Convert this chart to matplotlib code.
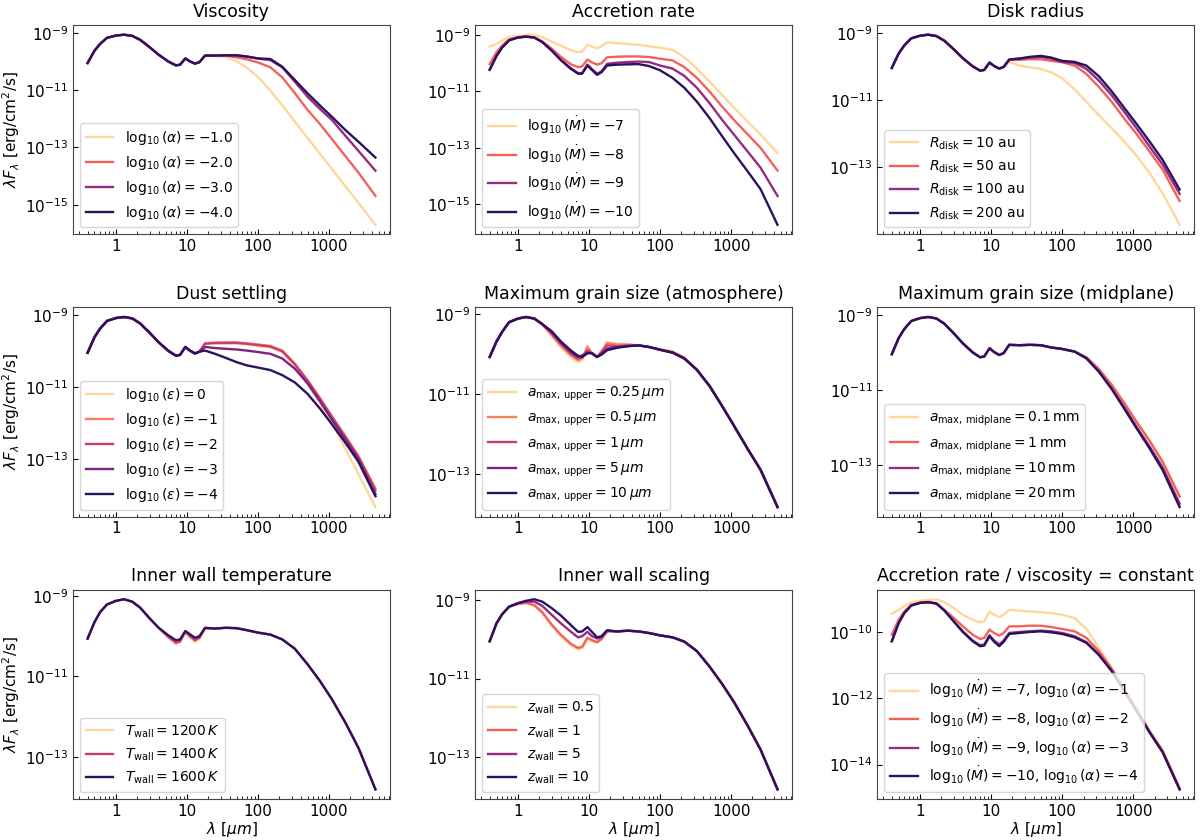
import numpy as np
import matplotlib
matplotlib.use("Agg")
import matplotlib.pyplot as plt
from matplotlib.ticker import FixedLocator, NullLocator, LogLocator

# wavelength grid [micron]
WL = [0.4, 0.5, 0.6, 0.75, 1.0, 1.3, 1.7, 2.2, 3.0, 4.0, 5.5, 7.0, 8.0, 9.5, 11, 13, 15,
      18, 25, 35, 50, 70, 100, 150, 220, 330, 500, 750, 1100, 1700, 2600, 4500]

# log10(lambda F_lambda)
BASE_SHORT = [-10.05, -9.62, -9.38, -9.17, -9.09, -9.06, -9.10, -9.24, -9.50, -9.76,
              -10.00, -10.13, -10.11, -9.89, -9.99, -10.07, -10.02]

# viscosity
VISC_A1 = BASE_SHORT + [-9.79, -9.80, -9.83, -9.99, -10.22, -10.53, -11.02, -11.53, -12.09, -12.67, -13.23, -13.75, -14.35, -14.94, -15.70]
VISC_A2 = BASE_SHORT + [-9.79, -9.79, -9.79, -9.85, -9.92, -10.03, -10.20, -10.55, -11.10, -11.69, -12.19, -12.71, -13.30, -13.88, -14.69]
VISC_A3 = BASE_SHORT + [-9.79, -9.79, -9.78, -9.78, -9.83, -9.89, -9.95, -10.20, -10.70, -11.23, -11.66, -12.04, -12.59, -13.12, -13.81]
VISC_A4 = BASE_SHORT + [-9.79, -9.79, -9.78, -9.78, -9.82, -9.89, -9.91, -10.18, -10.64, -11.11, -11.54, -11.93, -12.39, -12.80, -13.35]

# accretion rate
ACC_M7 = [-9.42, -9.33, -9.21, -9.09, -9.04, -9.01, -9.00, -9.09, -9.25, -9.39, -9.54, -9.62, -9.60, -9.35, -9.42, -9.48, -9.41,
          -9.27, -9.30, -9.33, -9.36, -9.41, -9.46, -9.54, -9.80, -10.20, -10.67, -11.14, -11.58, -12.08, -12.54, -13.19]
ACC_M8 = [-10.04, -9.62, -9.38, -9.17, -9.09, -9.06, -9.10, -9.24, -9.50, -9.78, -10.04, -10.15, -10.12, -9.88, -9.98, -10.06, -10.01,
          -9.80, -9.78, -9.77, -9.77, -9.79, -9.85, -9.91, -10.15, -10.53, -11.02, -11.55, -12.02, -12.52, -13.01, -13.81]
ACC_M9 = [-10.24, -9.75, -9.45, -9.20, -9.10, -9.07, -9.10, -9.26, -9.56, -9.88, -10.18, -10.36, -10.36, -10.06, -10.22, -10.38, -10.30,
          -10.03, -9.99, -9.97, -9.95, -9.97, -10.09, -10.20, -10.46, -10.88, -11.43, -12.02, -12.54, -13.13, -13.71, -14.71]
ACC_M10 = [-10.24, -9.75, -9.45, -9.20, -9.10, -9.07, -9.10, -9.26, -9.57, -9.90, -10.20, -10.38, -10.38, -10.09, -10.25, -10.42, -10.33,
           -10.09, -10.06, -10.05, -10.04, -10.11, -10.26, -10.53, -10.88, -11.37, -11.96, -12.60, -13.19, -13.83, -14.47, -15.73]

# disk radius
RD_10 = BASE_SHORT + [-9.87, -9.98, -10.03, -10.08, -10.18, -10.36, -10.69, -11.06, -11.46, -11.85, -12.24, -12.65, -13.18, -13.78, -14.72]
RD_50 = BASE_SHORT + [-9.81, -9.81, -9.79, -9.79, -9.84, -9.88, -9.98, -10.23, -10.62, -11.06, -11.56, -12.00, -12.54, -13.08, -14.01]
RD_100 = BASE_SHORT + [-9.80, -9.77, -9.74, -9.72, -9.77, -9.87, -9.90, -10.08, -10.43, -10.87, -11.36, -11.83, -12.39, -12.93, -13.80]
RD_200 = BASE_SHORT + [-9.80, -9.77, -9.72, -9.69, -9.74, -9.84, -9.87, -9.98, -10.30, -10.75, -11.24, -11.70, -12.24, -12.79, -13.67]

# dust settling
EPS_0 = BASE_SHORT + [-9.80, -9.80, -9.79, -9.79, -9.82, -9.87, -9.90, -10.04, -10.40, -10.90, -11.45, -12.00, -12.71, -13.41, -14.32]
EPS_1 = BASE_SHORT + [-9.79, -9.77, -9.76, -9.76, -9.79, -9.82, -9.86, -9.99, -10.35, -10.81, -11.31, -11.81, -12.36, -12.91, -13.80]
EPS_2 = BASE_SHORT + [-9.80, -9.78, -9.78, -9.78, -9.80, -9.84, -9.88, -10.01, -10.37, -10.83, -11.33, -11.83, -12.38, -12.93, -13.86]
EPS_3 = BASE_SHORT + [-9.89, -9.92, -9.94, -9.96, -9.99, -10.03, -10.08, -10.21, -10.49, -10.90, -11.40, -11.90, -12.45, -13.00, -13.96]
EPS_4 = BASE_SHORT + [-9.99, -10.08, -10.19, -10.31, -10.40, -10.46, -10.53, -10.67, -10.87, -11.19, -11.60, -12.03, -12.54, -13.07, -14.02]

# maximum grain size, atmosphere
AUP_PEAK = [-10.07, -9.68, -9.44, -9.20, -9.11, -9.07, -9.11, -9.25]
AUP_TAIL = [-10.39, -10.80, -11.30, -11.79, -12.36, -12.89, -13.82]
AUP_025 = AUP_PEAK + [-9.55, -9.82, -10.07, -10.19, -10.15, -9.78, -9.98, -10.07, -9.90, -9.70, -9.74, -9.75, -9.78, -9.82, -9.87, -9.93, -10.08] + AUP_TAIL
AUP_05 = AUP_PEAK + [-9.52, -9.78, -10.02, -10.15, -10.11, -9.82, -9.98, -10.07, -9.93, -9.72, -9.76, -9.76, -9.78, -9.82, -9.88, -9.94, -10.09] + AUP_TAIL
AUP_1 = AUP_PEAK + [-9.49, -9.74, -9.98, -10.11, -10.07, -9.90, -9.98, -10.07, -9.96, -9.78, -9.80, -9.78, -9.78, -9.82, -9.89, -9.96, -10.10] + AUP_TAIL
AUP_5 = AUP_PEAK + [-9.45, -9.70, -9.94, -10.07, -10.03, -9.96, -9.98, -10.07, -9.98, -9.86, -9.82, -9.80, -9.78, -9.82, -9.89, -9.96, -10.11] + AUP_TAIL
AUP_10 = AUP_PEAK + [-9.43, -9.68, -9.90, -10.04, -10.07, -9.98, -9.97, -10.07, -10.01, -9.90, -9.84, -9.80, -9.78, -9.82, -9.89, -9.96, -10.11] + AUP_TAIL

# maximum grain size, midplane
AMID_FLAT = [-9.80, -9.81, -9.80, -9.81, -9.87, -9.91, -9.98]
AMID_01 = BASE_SHORT + AMID_FLAT + [-10.13, -10.44, -10.86, -11.34, -11.82, -12.34, -12.90, -13.82]
AMID_1 = BASE_SHORT + AMID_FLAT + [-10.13, -10.45, -10.87, -11.35, -11.83, -12.35, -12.91, -13.83]
AMID_10 = BASE_SHORT + AMID_FLAT + [-10.16, -10.50, -10.96, -11.46, -11.96, -12.50, -13.06, -14.02]
AMID_20 = BASE_SHORT + AMID_FLAT + [-10.16, -10.52, -10.98, -11.50, -12.00, -12.55, -13.13, -14.11]

# inner wall temperature
TW_PEAK = [-10.06, -9.65, -9.40, -9.21, -9.12, -9.08, -9.14, -9.29, -9.56, -9.79]
TW_TAIL = [-9.81, -9.79, -9.80, -9.85, -9.91, -9.96, -10.08, -10.31, -10.70, -11.12, -11.57, -12.15, -12.78, -13.81]
TW_1200 = TW_PEAK + [-10.04, -10.20, -10.16, -9.90, -10.04, -10.15, -10.06, -9.80] + TW_TAIL
TW_1400 = TW_PEAK + [-10.02, -10.16, -10.13, -9.89, -10.00, -10.10, -10.04, -9.80] + TW_TAIL
TW_1600 = TW_PEAK + [-9.98, -10.10, -10.08, -9.87, -9.95, -10.04, -10.00, -9.79] + TW_TAIL

# inner wall scaling
ZW_PEAK = [-10.05, -9.59, -9.36, -9.17]
ZW_TAIL = [-9.80, -9.78, -9.80, -9.84, -9.90, -9.95, -10.06, -10.30, -10.70, -11.14, -11.60, -12.19, -12.81, -13.82]
ZW_05 = ZW_PEAK + [-9.11, -9.08, -9.15, -9.34, -9.67, -9.92, -10.15, -10.26, -10.23, -10.01, -10.05, -10.09, -10.01, -9.80] + ZW_TAIL
ZW_1 = ZW_PEAK + [-9.10, -9.07, -9.13, -9.31, -9.63, -9.88, -10.11, -10.22, -10.19, -9.96, -10.02, -10.07, -9.99, -9.80] + ZW_TAIL
ZW_5 = ZW_PEAK + [-9.08, -9.04, -9.04, -9.15, -9.38, -9.59, -9.80, -9.95, -9.92, -9.81, -9.92, -9.98, -9.95, -9.78] + ZW_TAIL
ZW_10 = ZW_PEAK + [-9.08, -9.02, -8.98, -9.04, -9.21, -9.39, -9.63, -9.81, -9.80, -9.69, -9.81, -9.95, -9.92, -9.77] + ZW_TAIL

# accretion rate / viscosity = constant
CST_1 = [-9.44, -9.32, -9.20, -9.09, -9.04, -9.02, -9.00, -9.09, -9.27, -9.47, -9.62, -9.70, -9.67, -9.37, -9.47, -9.54, -9.47,
         -9.32, -9.35, -9.37, -9.39, -9.42, -9.47, -9.57, -9.90, -10.47, -11.09, -11.66, -12.26, -12.96, -13.55, -14.70]
CST_2 = [-10.07, -9.62, -9.37, -9.17, -9.10, -9.08, -9.12, -9.32, -9.57, -9.82, -10.07, -10.20, -10.17, -9.92, -10.02, -10.10, -10.02,
         -9.82, -9.82, -9.80, -9.80, -9.84, -9.90, -9.97, -10.17, -10.57, -11.11, -11.71, -12.31, -13.00, -13.60, -14.73]
CST_3 = [-10.27, -9.72, -9.42, -9.19, -9.11, -9.09, -9.13, -9.34, -9.67, -9.97, -10.25, -10.39, -10.37, -10.09, -10.25, -10.37, -10.25,
         -10.02, -9.99, -9.97, -9.95, -9.97, -10.02, -10.12, -10.30, -10.67, -11.16, -11.76, -12.34, -13.02, -13.62, -14.75]
CST_4 = [-10.27, -9.72, -9.42, -9.19, -9.11, -9.09, -9.13, -9.34, -9.68, -9.99, -10.27, -10.42, -10.40, -10.12, -10.28, -10.42, -10.29,
         -10.05, -10.02, -9.99, -9.97, -10.00, -10.05, -10.15, -10.32, -10.69, -11.18, -11.78, -12.36, -13.03, -13.63, -14.75]

TITLES = ["Viscosity", "Accretion rate", "Disk radius",
          "Dust settling", "Maximum grain size (atmosphere)", "Maximum grain size (midplane)",
          "Inner wall temperature", "Inner wall scaling", "Accretion rate / viscosity = constant"]

LABELS = [
    [r"$\log_{10}(\alpha) = -1.0$", r"$\log_{10}(\alpha) = -2.0$", r"$\log_{10}(\alpha) = -3.0$", r"$\log_{10}(\alpha) = -4.0$"],
    [r"$\log_{10}(\dot{M}) = -7$", r"$\log_{10}(\dot{M}) = -8$", r"$\log_{10}(\dot{M}) = -9$", r"$\log_{10}(\dot{M}) = -10$"],
    [r"$R_{\rm disk} = 10$ au", r"$R_{\rm disk} = 50$ au", r"$R_{\rm disk} = 100$ au", r"$R_{\rm disk} = 200$ au"],
    [r"$\log_{10}(\varepsilon) = 0$", r"$\log_{10}(\varepsilon) = -1$", r"$\log_{10}(\varepsilon) = -2$",
     r"$\log_{10}(\varepsilon) = -3$", r"$\log_{10}(\varepsilon) = -4$"],
    [r"$a_{\rm max,\,upper} = 0.25\,\mu m$", r"$a_{\rm max,\,upper} = 0.5\,\mu m$", r"$a_{\rm max,\,upper} = 1\,\mu m$",
     r"$a_{\rm max,\,upper} = 5\,\mu m$", r"$a_{\rm max,\,upper} = 10\,\mu m$"],
    [r"$a_{\rm max,\,midplane} = 0.1\,\rm mm$", r"$a_{\rm max,\,midplane} = 1\,\rm mm$",
     r"$a_{\rm max,\,midplane} = 10\,\rm mm$", r"$a_{\rm max,\,midplane} = 20\,\rm mm$"],
    [r"$T_{\rm wall} = 1200\,K$", r"$T_{\rm wall} = 1400\,K$", r"$T_{\rm wall} = 1600\,K$"],
    [r"$z_{\rm wall} = 0.5$", r"$z_{\rm wall} = 1$", r"$z_{\rm wall} = 5$", r"$z_{\rm wall} = 10$"],
    [r"$\log_{10}(\dot{M}) = -7$, $\log_{10}(\alpha) = -1$", r"$\log_{10}(\dot{M}) = -8$, $\log_{10}(\alpha) = -2$",
     r"$\log_{10}(\dot{M}) = -9$, $\log_{10}(\alpha) = -3$", r"$\log_{10}(\dot{M}) = -10$, $\log_{10}(\alpha) = -4$"],
]

CURVES = [
    [VISC_A1, VISC_A2, VISC_A3, VISC_A4],
    [ACC_M7, ACC_M8, ACC_M9, ACC_M10],
    [RD_10, RD_50, RD_100, RD_200],
    [EPS_0, EPS_1, EPS_2, EPS_3, EPS_4],
    [AUP_025, AUP_05, AUP_1, AUP_5, AUP_10],
    [AMID_01, AMID_1, AMID_10, AMID_20],
    [TW_1200, TW_1400, TW_1600],
    [ZW_05, ZW_1, ZW_5, ZW_10],
    [CST_1, CST_2, CST_3, CST_4],
]

# labelled decades on the y axis of each panel
YTICK_EXP = [[-9, -11, -13, -15], [-9, -11, -13, -15], [-9, -11, -13],
             [-9, -11, -13], [-9, -11, -13], [-9, -11, -13],
             [-9, -11, -13], [-9, -11, -13], [-10, -12, -14]]

plt.rcParams['xtick.direction'] = 'in'
plt.rcParams['ytick.direction'] = 'in'
plt.rcParams['axes.edgecolor'] = '#444444'

fig, axes = plt.subplots(3, 3, figsize=(12, 8.4), dpi=100)
fig.subplots_adjust(left=0.061, right=0.995, top=0.970, bottom=0.049, wspace=0.27, hspace=0.35)

for i, ax in enumerate(axes.flat):
    curves = CURVES[i]
    cols = plt.cm.magma(np.linspace(0.92, 0.17, len(curves)))
    for c, lab, col in zip(curves, LABELS[i], cols):
        ax.plot(WL, 10 ** np.array(c), color=col, lw=1.7, label=lab)
    ax.set_xscale('log')
    ax.set_yscale('log')
    ylim = ax.get_ylim()
    ax.yaxis.set_major_locator(FixedLocator([10.0 ** e for e in YTICK_EXP[i]]))
    ax.yaxis.set_minor_locator(NullLocator())
    ax.set_ylim(ylim)
    ax.set_xticks([1, 10, 100, 1000])
    ax.set_xticklabels(['1', '10', '100', '1000'])
    ax.xaxis.set_minor_locator(LogLocator(base=10, subs=np.arange(2, 10), numticks=20))
    ax.tick_params(labelsize=11)
    ax.set_title(TITLES[i], fontsize=12.5)
    ax.legend(loc='lower left', fontsize=10)
    if i % 3 == 0:
        ax.set_ylabel(r"$\lambda F_\lambda$ [erg/cm$^2$/s]", fontsize=11, labelpad=2)
    if i >= 6:
        ax.set_xlabel(r"$\lambda\ [\mu m]$", fontsize=11, labelpad=1)

fig.savefig("out.png", dpi=100)
